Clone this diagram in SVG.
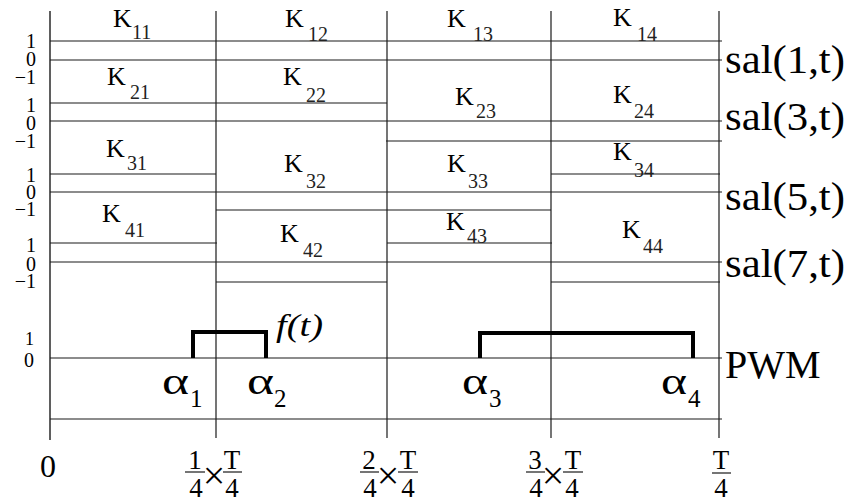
<svg xmlns="http://www.w3.org/2000/svg" width="853" height="504" viewBox="0 0 853 504" font-family="'Liberation Serif', 'Times New Roman', serif">
<style>
.ln{stroke:#1a1a1a;stroke-width:1.2;fill:none}
.ax{stroke:#1a1a1a;stroke-width:1.4;fill:none}
.pw{stroke:#000;stroke-width:4;fill:none}
text{fill:#000}
.k{font-size:26px}
.s{font-size:20px;fill:#222}
.lv{font-size:20px;text-anchor:end}
.sal{font-size:40px}
.al{font-size:38px}
.as{font-size:25px}
.fr{font-size:27px;text-anchor:middle}
.x{font-size:40px;text-anchor:middle}
</style>
<rect width="853" height="504" fill="#fff"/>
<g id="grid">
<line class="ax" x1="50" y1="11" x2="50" y2="440"/>
<line class="ln" x1="216" y1="11" x2="216" y2="438"/>
<line class="ln" x1="387" y1="11" x2="387" y2="438"/>
<line class="ln" x1="551" y1="11" x2="551" y2="438"/>
<line class="ln" x1="719" y1="11" x2="719" y2="438"/>
</g>
<g id="sal1">
<line class="ln" x1="50" y1="41" x2="722" y2="41"/>
<line class="ln" x1="50" y1="60" x2="722" y2="60"/>
</g>
<g id="sal3">
<line class="ln" x1="50" y1="103" x2="387" y2="103"/>
<line class="ln" x1="50" y1="121" x2="722" y2="121"/>
<line class="ln" x1="386" y1="141" x2="722" y2="141"/>
</g>
<g id="sal5">
<line class="ln" x1="50" y1="174" x2="216" y2="174"/>
<line class="ln" x1="551" y1="174" x2="720" y2="174"/>
<line class="ln" x1="50" y1="192" x2="722" y2="192"/>
<line class="ln" x1="216" y1="210" x2="551" y2="210"/>
</g>
<g id="sal7">
<line class="ln" x1="50" y1="243" x2="217" y2="243"/>
<line class="ln" x1="387" y1="243" x2="552" y2="243"/>
<line class="ln" x1="50" y1="262" x2="722" y2="262"/>
<line class="ln" x1="216" y1="282" x2="387" y2="282"/>
<line class="ln" x1="551" y1="282" x2="720" y2="282"/>
</g>
<g id="pwm">
<line class="ln" x1="50" y1="358" x2="722" y2="358"/>
<line class="ln" x1="50" y1="419" x2="722" y2="419"/>
<path class="pw" d="M193,358 V332 H266 V358"/>
<path class="pw" d="M480,358 V333 H693 V358"/>
</g>
<g id="levels">
<text class="lv" x="36" y="48">1</text>
<text class="lv" x="36" y="66">0</text>
<text class="lv" x="36" y="84">−1</text>
<text class="lv" x="36" y="112">1</text>
<text class="lv" x="36" y="130">0</text>
<text class="lv" x="36" y="148">−1</text>
<text class="lv" x="36" y="182">1</text>
<text class="lv" x="36" y="199">0</text>
<text class="lv" x="36" y="216">−1</text>
<text class="lv" x="36" y="252">1</text>
<text class="lv" x="36" y="271">0</text>
<text class="lv" x="36" y="288">−1</text>
<text class="lv" x="34" y="345" style="font-size:18px">1</text>
<text class="lv" x="34" y="367" style="font-size:20px">0</text>
</g>
<g id="klabels">
<text class="k" x="113" y="27">K<tspan class="s" x="132" y="39">11</tspan></text>
<text class="k" x="285" y="27">K<tspan class="s" x="308" y="41">12</tspan></text>
<text class="k" x="447" y="27">K<tspan class="s" x="473" y="41">13</tspan></text>
<text class="k" x="613" y="26">K<tspan class="s" x="637" y="41">14</tspan></text>
<text class="k" x="107" y="85">K<tspan class="s" x="130" y="99">21</tspan></text>
<text class="k" x="283" y="85">K<tspan class="s" x="306" y="102">22</tspan></text>
<text class="k" x="455" y="105">K<tspan class="s" x="476" y="118">23</tspan></text>
<text class="k" x="613" y="103">K<tspan class="s" x="634" y="118">24</tspan></text>
<text class="k" x="106" y="157">K<tspan class="s" x="127" y="170">31</tspan></text>
<text class="k" x="284" y="172">K<tspan class="s" x="306" y="188">32</tspan></text>
<text class="k" x="447" y="172">K<tspan class="s" x="468" y="188">33</tspan></text>
<text class="k" x="613" y="160">K<tspan class="s" x="634" y="177">34</tspan></text>
<text class="k" x="102" y="222">K<tspan class="s" x="125" y="237">41</tspan></text>
<text class="k" x="280" y="242">K<tspan class="s" x="303" y="257">42</tspan></text>
<text class="k" x="446" y="230">K<tspan class="s" x="467" y="243">43</tspan></text>
<text class="k" x="622" y="238">K<tspan class="s" x="643" y="253">44</tspan></text>
</g>
<g id="sallabels">
<text class="sal" x="725" y="73" textLength="120" lengthAdjust="spacingAndGlyphs">sal(1,t)</text>
<text class="sal" x="725" y="130" textLength="120" lengthAdjust="spacingAndGlyphs">sal(3,t)</text>
<text class="sal" x="725" y="210" textLength="120" lengthAdjust="spacingAndGlyphs">sal(5,t)</text>
<text class="sal" x="725" y="277" textLength="120" lengthAdjust="spacingAndGlyphs">sal(7,t)</text>
<text class="sal" x="725" y="378">PWM</text>
</g>
<g id="pwmlabels">
<text x="276" y="336" style="font-size:32px;font-style:italic" textLength="47" lengthAdjust="spacingAndGlyphs">f(t)</text>
<text class="al" x="162" y="394" textLength="27" lengthAdjust="spacingAndGlyphs">α</text><text class="as" x="190" y="407">1</text>
<text class="al" x="247" y="394" textLength="27" lengthAdjust="spacingAndGlyphs">α</text><text class="as" x="274" y="407">2</text>
<text class="al" x="462" y="394" textLength="26" lengthAdjust="spacingAndGlyphs">α</text><text class="as" x="489" y="407">3</text>
<text class="al" x="661" y="394" textLength="26" lengthAdjust="spacingAndGlyphs">α</text><text class="as" x="688" y="407">4</text>
</g>
<g id="ticks">
<text x="48" y="477" style="font-size:32px;text-anchor:middle">0</text>
<text class="fr" x="195" y="469">1</text><line class="ln" x1="185" y1="472" x2="205" y2="472"/><text class="fr" x="196" y="497">4</text>
<text class="x" x="214" y="489">×</text>
<text class="fr" x="232" y="469">T</text><line class="ln" x1="223" y1="472" x2="242" y2="472"/><text class="fr" x="232" y="497">4</text>
<text class="fr" x="369" y="469">2</text><line class="ln" x1="360" y1="472" x2="379" y2="472"/><text class="fr" x="370" y="497">4</text>
<text class="x" x="388" y="489">×</text>
<text class="fr" x="408" y="469">T</text><line class="ln" x1="398" y1="472" x2="418" y2="472"/><text class="fr" x="408" y="497">4</text>
<text class="fr" x="535" y="469">3</text><line class="ln" x1="526" y1="472" x2="545" y2="472"/><text class="fr" x="536" y="497">4</text>
<text class="x" x="553" y="489">×</text>
<text class="fr" x="573" y="469">T</text><line class="ln" x1="563" y1="472" x2="583" y2="472"/><text class="fr" x="572" y="497">4</text>
<text class="fr" x="721" y="469">T</text><line class="ln" x1="712" y1="473" x2="731" y2="473"/><text class="fr" x="721" y="497">4</text>
</g>
</svg>
